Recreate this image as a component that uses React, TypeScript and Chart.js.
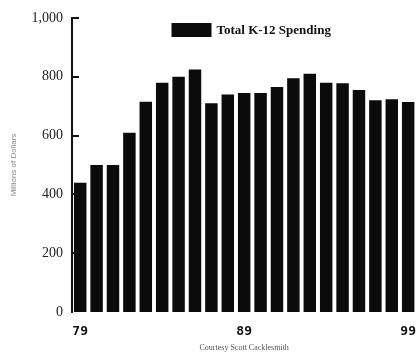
import { useEffect, useRef } from "react";
import { Chart, registerables } from "chart.js";

Chart.register(...registerables);

const years = ["79","80","81","82","83","84","85","86","87","88","89","90","91","92","93","94","95","96","97","98","99"];
const spending = [440, 500, 500, 610, 715, 780, 800, 825, 710, 740, 745, 745, 765, 795, 810, 780, 778, 755, 720, 724, 714];
const shownYears = ["79", "89", "99"];
const seriesLabel = "Total K-12 Spending";
const yAxisTitle = "Millions of Dollars";
const footerText = "Courtesy Scott Cacklesmith";

const inwardTicks = {
  id: "inwardTicks",
  afterDatasetsDraw(chart: any) {
    const y = chart.scales.y;
    const ctx = chart.ctx;
    ctx.save();
    ctx.strokeStyle = "#111";
    ctx.lineWidth = 2;
    y.ticks.forEach((t: any) => {
      if (t.value === 0) return;
      const py = Math.round(y.getPixelForValue(t.value));
      ctx.beginPath();
      ctx.moveTo(y.right, py);
      ctx.lineTo(y.right + 7, py);
      ctx.stroke();
    });
    ctx.restore();
  },
};

const insideLegend = {
  id: "insideLegend",
  afterDraw(chart: any) {
    const ctx = chart.ctx;
    const area = chart.chartArea;
    const ds = chart.data.datasets[0];
    ctx.save();
    ctx.font = "bold 13px 'Liberation Serif'";
    const tw = ctx.measureText(ds.label).width;
    const boxW = 40;
    const boxH = 14;
    const gap = 5;
    const total = boxW + gap + tw;
    const cx = (area.left + area.right) / 2 + 7;
    const x0 = cx - total / 2;
    const top = area.top + 5;
    ctx.fillStyle = ds.backgroundColor;
    ctx.fillRect(x0, top, boxW, boxH);
    ctx.fillStyle = "#111";
    ctx.textBaseline = "middle";
    ctx.textAlign = "left";
    ctx.fillText(ds.label, x0 + boxW + gap, top + boxH / 2 + 1);
    ctx.restore();
  },
};

export default function App() {
  const ref = useRef<HTMLCanvasElement | null>(null);
  useEffect(() => {
    if (!ref.current) return;
    const chart = new Chart(ref.current, {
      type: "bar",
      data: {
        labels: years,
        datasets: [
          {
            label: seriesLabel,
            data: spending,
            backgroundColor: "#0b0b0b",
            borderWidth: 0,
            categoryPercentage: 1,
            barPercentage: 0.76,
          },
        ],
      },
      options: {
        animation: false,
        responsive: false,
        layout: { padding: { top: 18, left: 0, right: 0, bottom: 0 } },
        plugins: {
          tooltip: { enabled: false },
          legend: { display: false },
        },
        scales: {
          x: {
            grid: { display: false },
            border: { display: false },
            ticks: {
              autoSkip: false,
              maxRotation: 0,
              padding: 4,
              color: "#111",
              font: { family: "DejaVu Sans Mono", size: 13, weight: "bold" },
              callback: (_v: any, i: number) => (shownYears.includes(years[i]) ? years[i] : ""),
            },
            title: {
              display: true,
              text: footerText,
              color: "#555",
              font: { family: "Liberation Serif", size: 8 },
              padding: { top: 8, bottom: 0 },
            },
            afterFit: (s: any) => {
              s.height = 41;
            },
          },
          y: {
            min: 0,
            max: 1000,
            grid: { display: false, drawTicks: false },
            border: { display: true, color: "#111", width: 2 },
            ticks: {
              stepSize: 200,
              padding: 9,
              color: "#222",
              font: { family: "Liberation Serif", size: 14 },
              callback: (v: any) => Number(v).toLocaleString("en-US"),
            },
            title: {
              display: true,
              text: yAxisTitle,
              color: "#888",
              font: { family: "Liberation Sans", size: 8 },
              padding: { top: 9, bottom: 0 },
            },
            afterFit: (s: any) => {
              s.width = 72;
            },
          },
        },
      },
      plugins: [inwardTicks, insideLegend],
    });
    return () => chart.destroy();
  }, []);
  return (
    <div style={{ position: "absolute", left: 0, top: 0, width: 420, height: 353, background: "#fff" }}>
      <canvas ref={ref} width={420} height={353} />
    </div>
  );
}
